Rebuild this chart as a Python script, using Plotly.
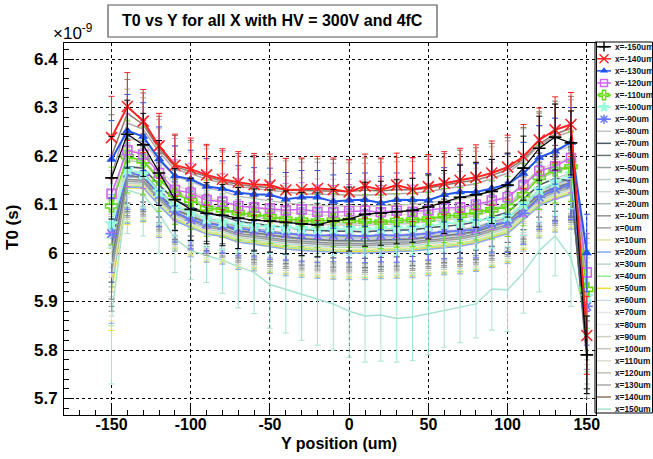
import plotly.graph_objects as go

# ---------------- data ----------------
Y_POS = [-150, -140, -130, -120, -110, -100, -90, -80, -70, -60, -50, -40, -30, -20, -10,
         0, 10, 20, 30, 40, 50, 60, 70, 80, 90, 100, 110, 120, 130, 140, 150]

# T0 values in units of 1e-9 s, one list per X position
T0_XM150 = [6.155, 6.245, 6.223, 6.165, 6.110, 6.090, 6.082, 6.078, 6.072, 6.068, 6.066, 6.063, 6.060, 6.058, 6.066,
            6.070, 6.080, 6.082, 6.085, 6.088, 6.095, 6.105, 6.115, 6.120, 6.127, 6.140, 6.175, 6.216, 6.239, 6.227, 5.790]
T0_XM140 = [6.238, 6.302, 6.272, 6.221, 6.181, 6.173, 6.161, 6.152, 6.146, 6.141, 6.140, 6.130, 6.131, 6.133, 6.131,
            6.126, 6.138, 6.130, 6.140, 6.131, 6.137, 6.144, 6.150, 6.156, 6.165, 6.177, 6.199, 6.233, 6.254, 6.265, 5.830]
T0_XM130 = [6.193, 6.252, 6.240, 6.194, 6.159, 6.152, 6.137, 6.133, 6.124, 6.121, 6.120, 6.111, 6.115, 6.115, 6.106,
            6.109, 6.110, 6.103, 6.110, 6.110, 6.109, 6.120, 6.126, 6.126, 6.133, 6.142, 6.164, 6.197, 6.210, 6.228, 6.000]
T0_XM120 = [6.122, 6.212, 6.203, 6.165, 6.130, 6.124, 6.109, 6.106, 6.097, 6.094, 6.092, 6.088, 6.090, 6.085, 6.084,
            6.086, 6.087, 6.084, 6.087, 6.085, 6.088, 6.093, 6.094, 6.100, 6.108, 6.115, 6.140, 6.169, 6.179, 6.196, 5.960]
T0_XM110 = [6.097, 6.199, 6.190, 6.152, 6.121, 6.109, 6.092, 6.089, 6.083, 6.080, 6.075, 6.070, 6.068, 6.066, 6.068,
            6.067, 6.066, 6.064, 6.067, 6.068, 6.070, 6.077, 6.078, 6.085, 6.089, 6.096, 6.120, 6.156, 6.171, 6.178, 5.925]
T0_XM100 = [6.060, 6.172, 6.163, 6.126, 6.097, 6.085, 6.070, 6.064, 6.058, 6.055, 6.053, 6.051, 6.050, 6.049, 6.050,
            6.050, 6.049, 6.050, 6.051, 6.052, 6.055, 6.060, 6.063, 6.066, 6.070, 6.075, 6.100, 6.130, 6.146, 6.163, 5.910]
T0_XM90 = [6.040, 6.165, 6.160, 6.120, 6.085, 6.068, 6.060, 6.057, 6.050, 6.047, 6.042, 6.040, 6.038, 6.036, 6.037,
           6.036, 6.035, 6.037, 6.036, 6.038, 6.040, 6.044, 6.046, 6.048, 6.060, 6.063, 6.082, 6.115, 6.132, 6.141, 5.890]
T0_XM80 = [6.030, 6.190, 6.188, 6.152, 6.122, 6.108, 6.095, 6.089, 6.078, 6.074, 6.069, 6.065, 6.062, 6.060, 6.058,
           6.058, 6.057, 6.059, 6.060, 6.061, 6.065, 6.068, 6.071, 6.077, 6.087, 6.097, 6.125, 6.153, 6.167, 6.177, 5.860]
T0_XM70 = [6.020, 6.178, 6.175, 6.140, 6.109, 6.095, 6.082, 6.076, 6.065, 6.061, 6.056, 6.052, 6.049, 6.047, 6.045,
           6.045, 6.044, 6.046, 6.047, 6.048, 6.052, 6.055, 6.058, 6.064, 6.074, 6.084, 6.112, 6.140, 6.154, 6.148, 5.800]
T0_XM60 = [5.985, 6.160, 6.156, 6.121, 6.090, 6.076, 6.063, 6.057, 6.046, 6.042, 6.037, 6.033, 6.030, 6.028, 6.026,
           6.026, 6.025, 6.027, 6.028, 6.029, 6.033, 6.036, 6.039, 6.045, 6.055, 6.065, 6.093, 6.121, 6.135, 6.145, 5.780]
T0_XM50 = [6.010, 6.168, 6.165, 6.129, 6.098, 6.084, 6.071, 6.065, 6.054, 6.050, 6.045, 6.041, 6.038, 6.036, 6.034,
           6.034, 6.033, 6.035, 6.036, 6.037, 6.041, 6.044, 6.047, 6.053, 6.063, 6.073, 6.101, 6.129, 6.143, 6.153, 5.840]
T0_XM40 = [6.000, 6.165, 6.162, 6.126, 6.095, 6.081, 6.068, 6.062, 6.051, 6.047, 6.042, 6.038, 6.035, 6.033, 6.031,
           6.031, 6.030, 6.032, 6.033, 6.034, 6.038, 6.041, 6.044, 6.050, 6.060, 6.070, 6.098, 6.126, 6.140, 6.150, 5.830]
T0_XM30 = [5.990, 6.161, 6.158, 6.123, 6.092, 6.078, 6.065, 6.059, 6.048, 6.044, 6.039, 6.035, 6.032, 6.030, 6.028,
           6.028, 6.027, 6.029, 6.030, 6.031, 6.035, 6.038, 6.041, 6.047, 6.057, 6.067, 6.095, 6.123, 6.137, 6.147, 5.820]
T0_XM20 = [5.980, 6.157, 6.154, 6.119, 6.088, 6.074, 6.061, 6.055, 6.044, 6.040, 6.035, 6.031, 6.028, 6.026, 6.024,
           6.024, 6.023, 6.025, 6.026, 6.027, 6.031, 6.034, 6.037, 6.043, 6.053, 6.063, 6.091, 6.119, 6.133, 6.143, 5.810]
T0_XM10 = [5.970, 6.152, 6.150, 6.115, 6.084, 6.070, 6.057, 6.051, 6.040, 6.036, 6.031, 6.027, 6.024, 6.022, 6.020,
           6.020, 6.019, 6.021, 6.022, 6.023, 6.027, 6.030, 6.033, 6.039, 6.049, 6.059, 6.087, 6.115, 6.129, 6.139, 5.790]
T0_X0 = [5.960, 6.148, 6.146, 6.111, 6.080, 6.066, 6.053, 6.048, 6.036, 6.032, 6.027, 6.023, 6.020, 6.018, 6.016,
         6.016, 6.015, 6.017, 6.018, 6.019, 6.023, 6.026, 6.029, 6.035, 6.045, 6.055, 6.083, 6.111, 6.125, 6.135, 5.800]
T0_XP10 = [5.940, 6.140, 6.139, 6.103, 6.073, 6.058, 6.045, 6.040, 6.029, 6.025, 6.020, 6.015, 6.012, 6.010, 6.008,
           6.008, 6.007, 6.009, 6.010, 6.011, 6.015, 6.018, 6.021, 6.027, 6.037, 6.047, 6.075, 6.103, 6.117, 6.127, 5.860]
T0_XP20 = [5.935, 6.136, 6.135, 6.098, 6.066, 6.052, 6.039, 6.034, 6.022, 6.018, 6.013, 6.008, 6.005, 6.003, 6.001,
           6.000, 6.000, 6.002, 6.003, 6.004, 6.008, 6.011, 6.014, 6.020, 6.030, 6.040, 6.068, 6.097, 6.111, 6.121, 5.840]
T0_XP30 = [5.950, 6.144, 6.142, 6.107, 6.076, 6.062, 6.049, 6.044, 6.032, 6.028, 6.023, 6.019, 6.016, 6.014, 6.012,
           6.012, 6.011, 6.013, 6.014, 6.015, 6.019, 6.022, 6.025, 6.031, 6.041, 6.051, 6.079, 6.107, 6.121, 6.131, 5.850]
T0_XP40 = [5.930, 6.138, 6.137, 6.102, 6.071, 6.057, 6.044, 6.039, 6.027, 6.023, 6.018, 6.013, 6.010, 6.008, 6.006,
           6.006, 6.005, 6.007, 6.008, 6.009, 6.013, 6.016, 6.019, 6.025, 6.035, 6.045, 6.074, 6.102, 6.116, 6.126, 5.835]
T0_XP50 = [5.920, 6.134, 6.134, 6.099, 6.068, 6.054, 6.040, 6.036, 6.023, 6.020, 6.015, 6.010, 6.008, 6.005, 6.003,
           6.003, 6.002, 6.004, 6.005, 6.006, 6.010, 6.013, 6.016, 6.022, 6.032, 6.042, 6.071, 6.099, 6.113, 6.123, 5.910]
T0_XP60 = [5.960, 6.150, 6.148, 6.113, 6.082, 6.068, 6.055, 6.050, 6.038, 6.034, 6.029, 6.025, 6.022, 6.020, 6.018,
           6.018, 6.017, 6.019, 6.020, 6.021, 6.025, 6.028, 6.031, 6.037, 6.047, 6.057, 6.085, 6.113, 6.127, 6.137, 5.870]
T0_XP70 = [5.975, 6.162, 6.160, 6.124, 6.093, 6.079, 6.066, 6.061, 6.049, 6.045, 6.040, 6.036, 6.033, 6.031, 6.029,
           6.029, 6.028, 6.030, 6.031, 6.032, 6.036, 6.039, 6.042, 6.048, 6.058, 6.068, 6.096, 6.124, 6.138, 6.148, 5.880]
T0_XP80 = [5.990, 6.170, 6.168, 6.132, 6.101, 6.087, 6.074, 6.069, 6.057, 6.053, 6.048, 6.044, 6.041, 6.039, 6.037,
           6.037, 6.036, 6.038, 6.039, 6.040, 6.044, 6.047, 6.050, 6.056, 6.066, 6.076, 6.104, 6.132, 6.146, 6.156, 5.890]
T0_XP90 = [6.000, 6.178, 6.176, 6.140, 6.109, 6.095, 6.082, 6.077, 6.065, 6.061, 6.056, 6.052, 6.049, 6.047, 6.045,
           6.045, 6.044, 6.046, 6.047, 6.048, 6.052, 6.055, 6.058, 6.064, 6.074, 6.084, 6.112, 6.140, 6.154, 6.164, 5.900]
T0_XP100 = [6.020, 6.196, 6.192, 6.157, 6.126, 6.112, 6.099, 6.093, 6.082, 6.078, 6.073, 6.069, 6.066, 6.064, 6.062,
            6.062, 6.061, 6.063, 6.064, 6.065, 6.069, 6.072, 6.075, 6.081, 6.091, 6.101, 6.129, 6.157, 6.171, 6.181, 5.910]
T0_XP110 = [6.050, 6.212, 6.208, 6.172, 6.141, 6.127, 6.114, 6.108, 6.097, 6.093, 6.088, 6.084, 6.081, 6.079, 6.077,
            6.077, 6.076, 6.078, 6.079, 6.080, 6.084, 6.087, 6.090, 6.096, 6.106, 6.116, 6.144, 6.172, 6.186, 6.196, 5.920]
T0_XP120 = [6.090, 6.236, 6.230, 6.190, 6.158, 6.148, 6.134, 6.128, 6.117, 6.112, 6.107, 6.103, 6.100, 6.098, 6.097,
            6.097, 6.096, 6.098, 6.099, 6.100, 6.104, 6.108, 6.111, 6.117, 6.127, 6.138, 6.165, 6.195, 6.210, 6.220, 5.940]
T0_XP130 = [6.160, 6.268, 6.255, 6.208, 6.172, 6.164, 6.152, 6.145, 6.137, 6.133, 6.129, 6.125, 6.122, 6.121, 6.120,
            6.120, 6.119, 6.121, 6.122, 6.123, 6.127, 6.132, 6.137, 6.143, 6.153, 6.165, 6.190, 6.222, 6.240, 6.250, 5.950]
T0_XP140 = [6.200, 6.288, 6.265, 6.215, 6.178, 6.168, 6.158, 6.148, 6.142, 6.137, 6.135, 6.130, 6.129, 6.128, 6.128,
            6.127, 6.130, 6.128, 6.131, 6.130, 6.134, 6.140, 6.146, 6.150, 6.160, 6.172, 6.193, 6.225, 6.245, 6.257, 5.800]
T0_XP150 = [5.870, 6.130, 6.120, 6.080, 6.030, 6.005, 5.995, 5.985, 5.972, 5.960, 5.935, 5.925, 5.915, 5.905, 5.895,
            5.880, 5.870, 5.872, 5.865, 5.868, 5.875, 5.882, 5.889, 5.895, 5.926, 5.924, 5.959, 6.005, 6.035, 5.990, 5.860]

# error profiles (1e-9 s)
ERR_TYPICAL = [0.080, 0.075, 0.070, 0.066, 0.062, 0.060, 0.058, 0.057, 0.056, 0.055, 0.055, 0.055, 0.055, 0.055, 0.055,
               0.055, 0.055, 0.055, 0.055, 0.055, 0.055, 0.056, 0.057, 0.058, 0.060, 0.062, 0.064, 0.066, 0.068, 0.072, 0.080]
ERR_HIGH = [0.085, 0.070, 0.065, 0.067, 0.064, 0.064, 0.063, 0.063, 0.063, 0.064, 0.064, 0.065, 0.065, 0.066, 0.065,
            0.066, 0.066, 0.066, 0.066, 0.066, 0.066, 0.065, 0.066, 0.067, 0.066, 0.066, 0.066, 0.066, 0.068, 0.066, 0.080]
ERR_XP150 = [0.140, 0.090, 0.085, 0.080, 0.070, 0.060, 0.056, 0.068, 0.085, 0.085, 0.090, 0.090, 0.095, 0.095, 0.095,
             0.095, 0.095, 0.095, 0.090, 0.090, 0.085, 0.076, 0.074, 0.070, 0.085, 0.086, 0.083, 0.085, 0.082, 0.100, 0.100]

LABELS = ["x=-150um", "x=-140um", "x=-130um", "x=-120um", "x=-110um", "x=-100um", "x=-90um", "x=-80um",
          "x=-70um", "x=-60um", "x=-50um", "x=-40um", "x=-30um", "x=-20um", "x=-10um", "x=0um", "x=10um",
          "x=20um", "x=30um", "x=40um", "x=50um", "x=60um", "x=70um", "x=80um", "x=90um", "x=100um",
          "x=110um", "x=120um", "x=130um", "x=140um", "x=150um"]

VALUES = [T0_XM150, T0_XM140, T0_XM130, T0_XM120, T0_XM110, T0_XM100, T0_XM90, T0_XM80, T0_XM70, T0_XM60,
          T0_XM50, T0_XM40, T0_XM30, T0_XM20, T0_XM10, T0_X0, T0_XP10, T0_XP20, T0_XP30, T0_XP40, T0_XP50,
          T0_XP60, T0_XP70, T0_XP80, T0_XP90, T0_XP100, T0_XP110, T0_XP120, T0_XP130, T0_XP140, T0_XP150]

ERRORS = [ERR_HIGH, ERR_HIGH, ERR_TYPICAL, ERR_TYPICAL, ERR_TYPICAL, ERR_TYPICAL, ERR_TYPICAL, ERR_TYPICAL,
          ERR_TYPICAL, ERR_TYPICAL, ERR_TYPICAL, ERR_TYPICAL, ERR_TYPICAL, ERR_TYPICAL, ERR_TYPICAL, ERR_TYPICAL,
          ERR_TYPICAL, ERR_TYPICAL, ERR_TYPICAL, ERR_TYPICAL, ERR_TYPICAL, ERR_TYPICAL, ERR_TYPICAL, ERR_TYPICAL,
          ERR_TYPICAL, ERR_TYPICAL, ERR_TYPICAL, ERR_TYPICAL, ERR_HIGH, ERR_HIGH, ERR_XP150]

COLORS = ["#000000", "#ff2222", "#2255ee", "#cc66ee", "#66dd11", "#99ffdd", "#6677ff", "#c4c4c4",
          "#4a5a68", "#6e7878", "#98a4a4", "#c0cccc", "#d0d8d8", "#b0b8b8", "#8c9494", "#a0a0a0",
          "#e6e69a", "#88aaee", "#b8d8cc", "#99ee99", "#eedd33", "#d4dce4", "#e4e8ec", "#ececec",
          "#d0d0c0", "#c8c8b8", "#dcdccc", "#c0c0b8", "#b0a8a8", "#8a7466", "#a8e4cc"]

SYMBOLS = ["cross-thin-open", "x-thin-open", "triangle-up", "square-open", "cross-open", "star", "asterisk-open"]
SYM_SIZE = [9, 11, 9, 9, 10, 9, 10]

Y_TICKS = [5.7, 5.8, 5.9, 6.0, 6.1, 6.2, 6.3, 6.4]
Y_TICK_TEXT = ["5.7", "5.8", "5.9", "6", "6.1", "6.2", "6.3", "6.4"]
X_TICKS = [-150, -100, -50, 0, 50, 100, 150]
X_TICK_TEXT = ["-150", "-100", "-50", "0", "50", "100", "150"]

for v in VALUES + ERRORS:
    assert len(v) == len(Y_POS), len(v)

W, H = 653, 459
FONT = "Liberation Sans"

fig = go.Figure()

# draw from last to first so highlighted series sit on top
for i in reversed(range(len(VALUES))):
    has_marker = i < len(SYMBOLS)
    lw = 2 if i in (1, 2) else (1.2 if i == 0 else 1.5)
    tr = dict(
        x=Y_POS, y=VALUES[i], name=LABELS[i], showlegend=False,
        mode="lines+markers" if has_marker else "lines",
        line=dict(color=COLORS[i], width=lw),
        error_y=dict(type="data", array=ERRORS[i], visible=True, color=COLORS[i], thickness=1, width=3),
        xaxis="x", yaxis="y", hoverinfo="skip",
    )
    if has_marker:
        tr["marker"] = dict(symbol=SYMBOLS[i], size=SYM_SIZE[i], color=COLORS[i],
                            line=dict(color=COLORS[i], width=1.6 if i != 2 else 0))
    fig.add_trace(go.Scatter(**tr))

# manual legend (pixel coordinates on an overlay axis pair)
LEG_Y0, LEG_DY = 46.7, 12.08
for i, lab in enumerate(LABELS):
    yy = LEG_Y0 + i * LEG_DY
    fig.add_trace(go.Scatter(x=[597, 611], y=[yy, yy], mode="lines", xaxis="x2", yaxis="y2",
                             line=dict(color=COLORS[i], width=1.5), showlegend=False, hoverinfo="skip",
                             cliponaxis=False))
    if i < len(SYMBOLS):
        fig.add_trace(go.Scatter(x=[604], y=[yy], mode="markers", xaxis="x2", yaxis="y2",
                                 marker=dict(symbol=SYMBOLS[i], size=SYM_SIZE[i] - 2, color=COLORS[i],
                                             line=dict(color=COLORS[i], width=1.4 if i != 2 else 0)),
                                 showlegend=False, hoverinfo="skip", cliponaxis=False))
    fig.add_annotation(x=613, y=yy, xref="x2", yref="y2", text=lab, showarrow=False, xanchor="left",
                       yanchor="middle", font=dict(family=FONT, size=8.3, color="#111122", weight="bold"))

x0p, x1p, y0p, y1p = 64, 596, 43, 415
axis_font = dict(family=FONT, size=16, color="black", weight="bold")

fig.update_layout(
    width=W, height=H, margin=dict(l=0, r=0, t=0, b=0),
    paper_bgcolor="white", plot_bgcolor="rgba(0,0,0,0)", template="none",
    showlegend=False,
    xaxis=dict(domain=[x0p / W, x1p / W], range=[-180, 155.8], anchor="y",
               tickmode="array", tickvals=X_TICKS, ticktext=X_TICK_TEXT, tickfont=axis_font,
               ticks="inside", ticklen=10, tickwidth=1, tickcolor="black", ticklabelstandoff=-5,
               minor=dict(ticks="inside", ticklen=5, dtick=10, tick0=0, tickcolor="black", showgrid=False),
               showgrid=True, gridcolor="black", griddash="dot", gridwidth=1,
               showline=True, mirror=True, linecolor="black", linewidth=1, zeroline=False),
    yaxis=dict(domain=[1 - y1p / H, 1 - y0p / H], range=[5.666, 6.433], anchor="x",
               tickmode="array", tickvals=Y_TICKS, ticktext=Y_TICK_TEXT, tickfont=dict(axis_font, size=17),
               ticks="inside", ticklen=10, tickwidth=1, tickcolor="black", ticklabelstandoff=2,
               minor=dict(ticks="inside", ticklen=5, dtick=0.02, tick0=5.7, tickcolor="black", showgrid=False),
               showgrid=True, gridcolor="black", griddash="dot", gridwidth=1,
               showline=True, mirror=True, linecolor="black", linewidth=1, zeroline=False),
    xaxis2=dict(domain=[0, 1], range=[0, W], visible=False, anchor="y2", fixedrange=True),
    yaxis2=dict(domain=[0, 1], range=[H, 0], visible=False, anchor="x2", fixedrange=True),
)

# legend box
fig.add_shape(type="rect", xref="paper", yref="paper", x0=595 / W, x1=652.5 / W, y0=1 - 413 / H, y1=1 - 42 / H,
              line=dict(color="black", width=1), fillcolor="rgba(255,255,255,0)", layer="below")

# title box + title
fig.add_shape(type="rect", xref="paper", yref="paper", x0=108 / W, x1=437 / W, y0=1 - 37 / H, y1=1 - 5 / H,
              line=dict(color="#555555", width=1.2), fillcolor="white")
fig.add_annotation(x=272.5 / W, y=1 - 21 / H, xref="paper", yref="paper", showarrow=False,
                   xanchor="center", yanchor="middle",
                   text="T0 vs Y for all X with HV = 300V and 4fC",
                   font=dict(family=FONT, size=16, color="black", weight="bold"))

# exponent label
fig.add_annotation(x=51 / W, y=1 - 32 / H, xref="paper", yref="paper", showarrow=False,
                   xanchor="left", yanchor="middle",
                   text="×10<sup>-9</sup>", font=dict(family=FONT, size=17, color="black"))

# axis titles
fig.add_annotation(x=12 / W, y=1 - 228 / H, xref="paper", yref="paper", showarrow=False, textangle=-90,
                   xanchor="center", yanchor="middle",
                   text="T0 (s)", font=dict(family=FONT, size=17, color="black", weight="bold"))
fig.add_annotation(x=339 / W, y=1 - 443 / H, xref="paper", yref="paper", showarrow=False,
                   xanchor="center", yanchor="middle",
                   text="Y position (um)", font=dict(family=FONT, size=16, color="black", weight="bold"))

fig.write_html("out.html")
